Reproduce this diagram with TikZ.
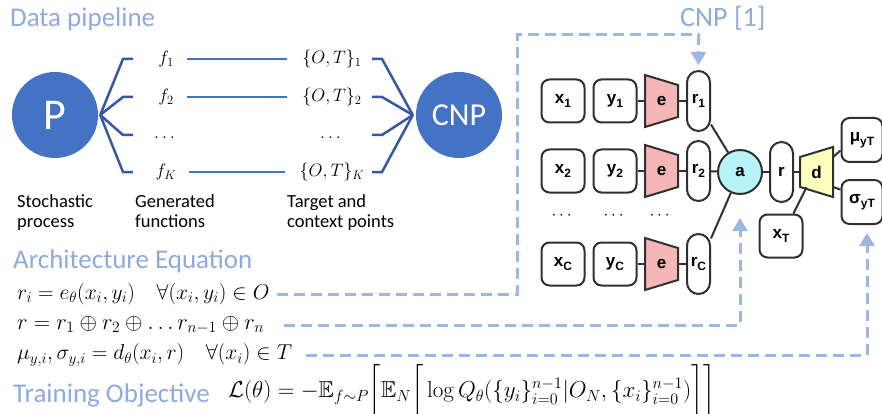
\RequirePackage{fix-cm}
\documentclass[tikz,border=0pt]{standalone}
\usepackage{amsmath}
\usepackage{amssymb}
\usepackage[no-math]{fontspec}
\setmainfont{Carlito}
\newfontfamily\netfont{Liberation Sans}
\usetikzlibrary{arrows.meta,positioning}
\definecolor{cnpblue}{RGB}{68,114,196}
\definecolor{forkblue}{RGB}{52,88,165}
\definecolor{headblue}{RGB}{143,170,220}
\definecolor{dashblue}{RGB}{157,183,228}
\definecolor{encpink}{RGB}{245,182,182}
\definecolor{aggcyan}{RGB}{182,242,248}
\definecolor{decyellow}{RGB}{255,255,192}
\definecolor{netgray}{RGB}{48,48,48}
\newcommand{\lsub}[1]{\raisebox{-4pt}{\fontsize{12}{12}\selectfont #1}}
\tikzstyle{heading} = [anchor=base west, inner sep=0pt, text=headblue, font=\fontsize{27}{30}\selectfont]
\tikzstyle{caption} = [anchor=base west, inner sep=0pt, align=left, font=\fontsize{18.5}{20}\selectfont]
\tikzstyle{ball} = [circle, minimum size=86pt, fill=cnpblue, text=white, inner sep=0pt]
\tikzstyle{fork} = [line width=2.5pt, color=forkblue]
\tikzstyle{link} = [line width=2.5pt, color=cnpblue, shorten <=13pt, shorten >=15pt]
\tikzstyle{fn} = [inner sep=0pt, font=\fontsize{18}{18}\selectfont]
\tikzstyle{cell} = [rectangle, rounded corners=8pt, minimum size=43pt, inner sep=0pt, draw=netgray, line width=2pt, fill=white, font=\netfont\bfseries\fontsize{17}{17}\selectfont]
\tikzstyle{pill} = [rectangle, rounded corners=11.5pt, minimum width=23pt, minimum height=60pt, inner sep=0pt, draw=netgray, line width=2pt, fill=white, font=\netfont\bfseries\fontsize{17}{17}\selectfont]
\tikzstyle{enc} = [rectangle, minimum width=33pt, minimum height=30pt, inner sep=0pt, font=\netfont\bfseries\fontsize{17}{17}\selectfont]
\tikzstyle{trap} = [draw=netgray, line width=2pt, line join=miter]
\tikzstyle{wire} = [line width=2pt, color=netgray]
\tikzstyle{dashline} = [line width=3pt, color=dashblue, dash pattern=on 11pt off 6pt, -{Triangle[width=15pt,length=13pt]}]
\tikzstyle{eqn} = [anchor=west, inner sep=0pt, font=\fontsize{21.5}{25}\selectfont]

\begin{document}
\begin{tikzpicture}[x=1pt,y=-1pt]
\useasboundingbox (0,0) rectangle (882,414);

% data pipeline
\node[heading] (pipehead) at (10,27) {Data pipeline};
\node[ball, font=\fontsize{44}{44}\selectfont] (P) at (55,115) {P};
\node[ball, font=\fontsize{32}{32}\selectfont] (CNP) at (459,115) {CNP};

\node[fn] (f1) at (166,59) {$f_1$};
\node[fn] (f2) at (166,97) {$f_2$};
\node[fn] (fd) at (166,138) {$\dots$};
\node[fn] (fK) at (166,172) {$f_K$};
\node[fn] (ot1) at (332,59) {$\{O,T\}_1$};
\node[fn] (ot2) at (332,97) {$\{O,T\}_2$};
\node[fn] (otd) at (332,138) {$\dots$};
\node[fn] (otK) at (332,172) {$\{O,T\}_K$};

\foreach \y in {59,97,135,172} {
  \draw[fork] ([xshift=2pt]P.east) -- (123,\y) -- (133,\y);
  \draw[fork] (372,\y) -- (382,\y) -- ([xshift=-3pt]CNP.west);
}
\draw[link] (f1) -- (ot1);
\draw[link] (f2) -- (ot2);
\draw[link] (fK) -- (otK);

\node[caption] (capP) at (17,227) {Stochastic\\process};
\node[caption] (capf) at (135,227) {Generated\\functions};
\node[caption] (capot) at (287,227) {Target and\\context points};

% network
\node[heading, font=\fontsize{28}{30}\selectfont] (nethead) at (680,27) {CNP [1]};
\foreach \i/\y in {1/101,2/171,C/264} {
  \filldraw[trap, fill=encpink] (645,\y-26) -- (678,\y-16) -- (678,\y+16) -- (645,\y+26) -- cycle;
  \node[cell] (x\i) at (563,\y) {x\lsub{\i}};
  \node[cell] (y\i) at (615,\y) {y\lsub{\i}};
  \node[enc] (e\i) at (661.5,\y) {e};
  \node[pill] (r\i) at (698.5,\y) {r\lsub{\i}};
  \draw[wire] (y\i) -- (e\i);
  \draw[wire] (e\i) -- (r\i);
}
\node[enc] (xdots) at (563,216) {$\cdots$};
\node[enc] (ydots) at (615,216) {$\cdots$};
\node[enc] (edots) at (661,216) {$\cdots$};

\node[circle, minimum size=44pt, inner sep=0pt, draw=netgray, line width=2pt, fill=aggcyan, font=\netfont\bfseries\fontsize{17}{17}\selectfont] (a) at (740,172) {a};
\node[pill] (r) at (781.5,172) {r};
\filldraw[trap, fill=decyellow] (800,157) -- (833,147) -- (833,197) -- (800,187) -- cycle;
\node[enc] (d) at (816.5,172) {d};
\node[cell] (xT) at (781,236) {x\lsub{T}};
\node[cell, minimum width=41pt, minimum height=44pt] (mu) at (862,140) {μ\lsub{yT}};
\node[cell, minimum width=41pt, minimum height=44pt] (sigma) at (862,202) {σ\lsub{yT}};

\draw[wire] (r1.-62) -- (a);
\draw[wire] (r2) -- (a);
\draw[wire] (rC.64) -- (a);
\draw[wire] (a) -- (r);
\draw[wire] (r) -- (d);
\draw[wire] (xT.61) -- ([xshift=-10pt]d.south);
\draw[wire] (d.42) -- (mu.206);
\draw[wire] (d.-42) -- (sigma.150);

% equations
\node[heading] (eqhead) at (13,268) {Architecture Equation};
\node[eqn] (eq1) at (17,294) {$r_i = e_\theta(x_i, y_i) \quad \forall (x_i, y_i) \in O$};
\node[eqn, font=\fontsize{22.5}{25}\selectfont] (eq2) at (17,325) {$r = r_1 \oplus r_2 \oplus \dots r_{n-1} \oplus r_n$};
\node[eqn] (eq3) at (17,355) {$\mu_{y,i}, \sigma_{y,i} = d_\theta(x_i, r) \quad \forall (x_i) \in T$};
\node[heading] (objhead) at (13,402) {Training Objective};
\node[eqn, font=\fontsize{23}{25}\selectfont] (eq4) at (228,392) {$\mathcal{L}(\theta) = -\mathbb{E}_{f\sim P}\bigg[\mathbb{E}_N\bigg[\log Q_\theta(\{y_i\}_{i=0}^{n-1} | O_N, \{x_i\}_{i=0}^{n-1})\bigg]\bigg]$};

\coordinate (turn1) at (517,35);
\draw[dashline] ([xshift=7pt]eq1.east) -| (turn1) -| ([yshift=5pt]r1.north);
\draw[dashline] ([xshift=20pt]eq2.east) -| ([yshift=-23pt]a.south);
\draw[dashline] ([xshift=14pt]eq3.east) -| ([xshift=5pt,yshift=-8pt]sigma.south);
\end{tikzpicture}
\end{document}
